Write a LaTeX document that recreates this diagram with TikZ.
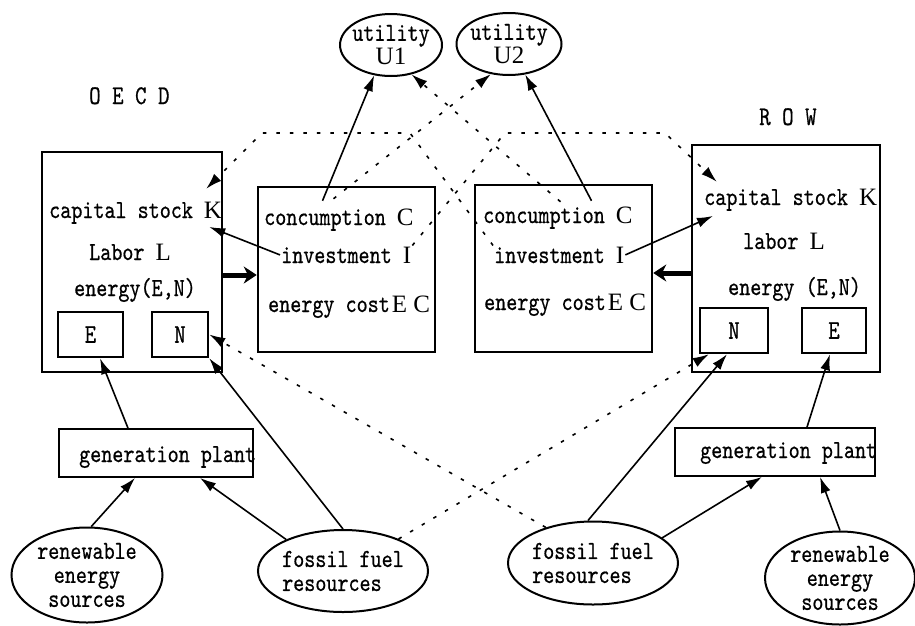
\documentclass[tikz,border=0pt]{standalone}
\usepackage{fontspec}
\setmonofont{lmmono10-regular}[Extension=.otf, FakeStretch=0.81, FakeBold=0.6]
\newfontfamily\capfont{Liberation Serif}
\usetikzlibrary{arrows.meta,shapes.geometric,calc}

\newcommand\bigch[1]{{\capfont\fontsize{25}{25}\selectfont #1}}

\tikzset{
  boxframe/.style={draw, line width=2.5pt, inner sep=0pt},
  thinframe/.style={draw, line width=1.8pt, inner sep=0pt},
  smallbox/.style={draw, line width=2.5pt, inner sep=0pt,
    font=\ttfamily\fontsize{27}{27}\selectfont},
  bubble/.style={draw, ellipse, line width=2pt, inner sep=-3pt, align=center,
    font=\ttfamily\fontsize{26}{24}\selectfont},
  txt/.style={anchor=base west, inner sep=1pt,
    font=\ttfamily\fontsize{26}{24}\selectfont},
  regionname/.style={anchor=base west, inner sep=1pt,
    font=\ttfamily\fontsize{27}{24}\selectfont},
  flow/.style={line width=1.6pt, -{Latex[length=16pt,width=10pt]}},
  crossflow/.style={line width=1.6pt, dash pattern=on 3.5pt off 10pt,
    -{Latex[length=16pt,width=10pt]}},
  thickflow/.style={line width=5pt, -{Stealth[length=13pt,width=17pt]}},
}

\begin{document}
\begin{tikzpicture}[x=1pt,y=-1pt]
\useasboundingbox (0,0) rectangle (915,625);

% ---------- OECD region ----------
\node[regionname] (oecdname) at (88,104) {O E C D};
\node[boxframe, minimum width=180pt, minimum height=220pt] (oecd) at (132,262) {};
\node[txt] (oK)  at (48,218)  {capital stock \bigch{K}};
\node[txt] (oL)  at (88,260)  {Labor \bigch{L}};
\node[txt] (oEN) at (73,296)  {energy(E,N)};
\node[smallbox, minimum width=65pt, minimum height=45pt] (oE) at (90.5,334.5) {E};
\node[smallbox, minimum width=56pt, minimum height=45pt] (oN) at (180,334.5) {N};
\node[thinframe, minimum width=194pt, minimum height=48pt] (ogen) at (156,453) {};
\node[txt] (ogentext) at (78,462) {generation plant};
\node[bubble, minimum width=151pt, minimum height=95pt] (oren) at (87,575)
  {renewable\\energy\\sources};
\node[bubble, minimum width=170pt, minimum height=82pt, align=left] (ofos) at (343,571)
  {fossil fuel\\resources};

% ---------- households ----------
\node[boxframe, minimum width=177pt, minimum height=165pt] (ocons) at (346.5,269.5) {};
\node[txt] (oC)  at (263,225) {concumption \bigch{C}};
\node[txt] (oI)  at (280,263) {investment \bigch{I}};
\node[txt] (oEC) at (267,312) {energy cost\hspace{2pt}\bigch{E C}};

\node[boxframe, minimum width=177pt, minimum height=167pt] (rcons) at (563.5,268.5) {};
\node[txt] (rC)  at (482,223) {concumption \bigch{C}};
\node[txt] (rI)  at (493,263) {investment \bigch{I}};
\node[txt] (rEC) at (483,310) {energy cost\hspace{2pt}\bigch{E C}};

\node[bubble, minimum width=102pt, minimum height=62pt] (U1) at (391,45) {utility\\\bigch{U1}};
\node[bubble, minimum width=105pt, minimum height=62pt] (U2) at (509,44) {utility\\\bigch{U2}};

% ---------- ROW region ----------
\node[regionname] (rowname) at (758,125) {R O W};
\node[boxframe, minimum width=188pt, minimum height=227pt] (row) at (786,258.5) {};
\node[txt] (rK)  at (703,205) {capital stock \bigch{K}};
\node[txt] (rL)  at (742,249) {labor \bigch{L}};
\node[txt] (rEN) at (727,295) {energy (E,N)};
\node[smallbox, minimum width=68pt, minimum height=45pt] (rN) at (734,330.5) {N};
\node[smallbox, minimum width=64pt, minimum height=45pt] (rE) at (834,330.5) {E};
\node[thinframe, minimum width=200pt, minimum height=48pt] (rgen) at (775,452) {};
\node[txt] (rgentext) at (699,458) {generation plant};
\node[bubble, minimum width=170pt, minimum height=83pt, align=left] (rfos) at (593,563)
  {fossil fuel\\resources};
\node[bubble, minimum width=150pt, minimum height=93pt] (rren) at (840,578)
  {renewable\\energy\\sources};

% bends of the investment links
\coordinate (bendA) at (505,133);
\coordinate (bendB) at (665,133);
\coordinate (bendC) at (410,133);
\coordinate (bendD) at (262,133);

% ---------- solid flows ----------
\draw[flow] ($(ocons.north)+(-24,15)$) -- (U1.241);
\draw[flow] ($(rcons.north)+(28,17)$) -- (U2.298);
\draw[flow] (oI.west) -- ($(oK.south east)+(-14,2)$);
\draw[flow] (rI.east) -- ($(rK.south west)+(10,4)$);
\draw[thickflow] ([yshift=-13pt]oecd.east) -- ([yshift=-5.5pt]ocons.west);
\draw[thickflow] ([yshift=-14.5pt]row.west) -- ([yshift=-4.5pt]rcons.east);

\draw[flow] ([xshift=-28pt]ogen.north) -- ([xshift=9.5pt]oE.south);
\draw[flow] (oren.85) -- ([xshift=-21pt]ogen.south);
\draw[flow] (ofos.151) -- ([xshift=44pt]ogen.south);
\draw[flow] (ofos.north) -- (oN.south east);

\draw[flow] ([xshift=-5pt]rfos.north) -- ([xshift=-7pt]rN.south);
\draw[flow] (rfos.20) -- ([xshift=-13pt]rgen.south);
\draw[flow] (rren.north) -- ([xshift=45pt]rgen.south);
\draw[flow] ([xshift=32pt]rgen.north) -- ([xshift=-4pt]rE.south);

% ---------- cross-region links ----------
\draw[crossflow] ($(ocons.north)+(-13,13)$) -- (U2.239);
\draw[crossflow] ($(rcons.north)+(-3,18)$) -- (U1.305);
\draw[crossflow] (oI.north east) -- (bendA) -- (bendB) -- ($(row.north west)+(26,38)$);
\draw[crossflow] (rI.north west) -- (bendC) -- (bendD) -- ($(oecd.north east)+(-17,38)$);
\draw[crossflow] (rfos.143) -- (oN.east);
\draw[crossflow] (ofos.30) -- ([xshift=10pt]rN.south west);
\end{tikzpicture}
\end{document}
